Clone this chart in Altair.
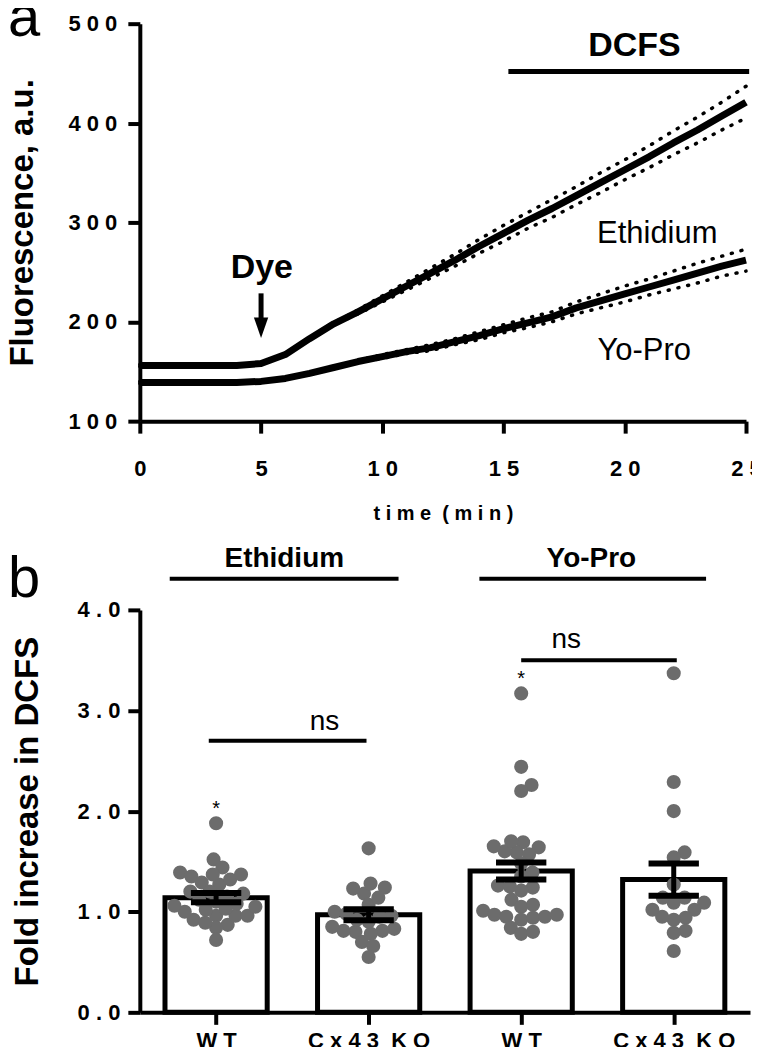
import math
import altair as alt
import pandas as pd

FONT = "Liberation Sans"
NB = "\u00a0"

# ---------------- Panel a data ----------------
time_min = list(range(26))
eth_mean = [156, 156, 156, 156, 156, 158, 167, 183, 198, 210, 223, 236, 249, 262, 276,
            289, 302, 314, 327, 340, 353, 366, 380, 393, 407, 421]
eth_sem = [1, 1, 1, 1, 1, 1, 1, 1, 1, 2, 3, 4, 5, 6, 7, 8, 8, 9, 9, 10, 10, 11, 12, 13, 14, 16]
ypr_mean = [139, 139, 139, 139, 139, 140, 143, 148, 154, 160, 165, 170, 174, 180, 186,
            193, 199, 205, 214, 221, 228, 235, 242, 249, 256, 262]
ypr_sem = [1, 1, 1, 1, 1, 1, 1, 1, 1, 1, 2, 2, 3, 3, 4, 4, 5, 5, 6, 7, 8, 8, 9, 10, 10, 11]

top_bold_text = ["Dye", "DCFS"]
top_bold_x = [5.03, 20.4]
top_bold_y = [243.7, 467.8]
top_norm_text = ["Ethidium", "Yo-Pro"]
top_norm_x = [21.34, 20.8]
top_norm_y = [278.9, 161.3]
dcfs_bar = [15.2, 25.13, 451.8]          # x1, x2, y
dye_arrow = [5.0, 228.6, 203.0, 194.0]   # x, shaft top, shaft bottom, head centre

# ---------------- Panel b data ----------------
group_labels = ["W T", "C x 4 3" + NB + " K O", "W T", "C x 4 3" + NB + " K O"]
group_pos = [0.5, 1.5, 2.5, 3.5]
bar_mean = [1.14, 0.97, 1.405, 1.32]
bar_sem = [0.045, 0.055, 0.085, 0.16]

eth_wt = [1.88, 1.52, 1.44, 1.39, 1.35, 1.27, 1.29, 1.32, 1.37, 1.37, 1.20, 1.20, 0.96, 0.92,
          0.87, 0.96, 0.84, 0.89, 0.96, 0.72, 1.12, 1.10, 1.08, 1.05, 1.03, 1.00, 1.15, 1.18,
          1.02, 1.06]
eth_ko = [1.63, 1.24, 1.18, 1.07, 1.14, 1.23, 1.28, 0.96, 1.00, 0.83, 0.81, 0.80, 0.81, 0.85,
          0.78, 0.70, 0.66, 0.55, 0.95, 0.98, 0.90, 0.92]
ypr_wt = [3.17, 2.44, 2.26, 2.20, 1.69, 1.64, 1.59, 1.57, 1.60, 1.65, 1.70, 1.48, 1.39, 1.35,
          1.24, 1.26, 1.21, 1.25, 1.12, 1.05, 1.01, 1.07, 0.97, 0.95, 0.92, 0.94, 0.95, 0.97,
          0.84, 0.78, 0.80]
ypr_ko = [3.37, 2.29, 2.00, 1.59, 1.54, 1.27, 1.14, 1.09, 1.02, 0.94, 0.92, 0.95, 1.02, 1.14,
          1.09, 0.81, 0.79, 0.61]
groups_values = [eth_wt, eth_ko, ypr_wt, ypr_ko]

sig_x1 = [0.196, 2.226, 0.452, 2.50]
sig_x2 = [1.696, 3.712, 1.486, 3.52]
sig_y = [4.31, 4.31, 2.70, 3.50]
head_text = ["Ethidium", "Yo-Pro"]
head_x = [0.947, 2.96]
head_y = [4.43, 4.43]
ns_text = ["ns", "ns"]
ns_x = [1.21, 2.795]
ns_y = [2.81, 3.62]
star_text = ["*", "*"]
star_x = [0.5, 2.5]
star_y = [1.965, 3.25]

panel_letters = ["a", "b"]

# ---------------- sizes ----------------
W_TOP, H_TOP = 607, 398
W_BOT, H_BOT = 611, 403
PX_X = W_BOT / 4.0
PX_Y = H_BOT / 4.0


def swarm(values, d=12.0):
    placed = []
    offs = [0.0] * len(values)
    for i in sorted(range(len(values)), key=lambda k: values[k]):
        y = values[i] * PX_Y
        cands = [0.0]
        for xj, yj in placed:
            dy = abs(y - yj)
            if dy < d:
                dx = math.sqrt(d * d - dy * dy)
                cands += [xj + dx, xj - dx]
        cands.sort(key=abs)
        for c in cands:
            if all((c - xj) ** 2 + (y - yj) ** 2 >= d * d - 1e-6 for xj, yj in placed):
                offs[i] = c
                placed.append((c, y))
                break
    return offs


# ---------------- panel a ----------------
rows = []
for name, m, s in [("Ethidium", eth_mean, eth_sem), ("Yo-Pro", ypr_mean, ypr_sem)]:
    for t, mv, sv in zip(time_min, m, s):
        rows.append({"time": t, "value": mv, "lower": mv - sv, "upper": mv + sv, "series": name})
df_top = pd.DataFrame(rows)

xs_top = alt.Scale(domain=[0, 25], nice=False, zero=False)
ys_top = alt.Scale(domain=[100, 500], nice=False, zero=False)
lab_expr = "join(split(datum.label, ''), ' ')"

x_top = alt.X("time:Q", scale=xs_top,
              axis=alt.Axis(values=[0, 5, 10, 15, 20, 25], labelExpr=lab_expr,
                            title="t i m e" + NB + " ( m i n )", titlePadding=24,
                            labelPadding=25))
y_top = alt.Y("value:Q", scale=ys_top,
              axis=alt.Axis(values=[100, 200, 300, 400, 500], labelExpr=lab_expr,
                            title="Fluorescence, a.u.", titlePadding=29, labelPadding=11))

base_top = alt.Chart(df_top)
dotted_lo = base_top.mark_line(color="black", strokeWidth=3.5, strokeDash=[1, 9],
                               strokeCap="round").encode(
    x=x_top, y=alt.Y("lower:Q", scale=ys_top), detail="series:N")
dotted_hi = base_top.mark_line(color="black", strokeWidth=3.5, strokeDash=[1, 9],
                               strokeCap="round").encode(
    x=alt.X("time:Q", scale=xs_top), y=alt.Y("upper:Q", scale=ys_top), detail="series:N")
main_line = base_top.mark_line(color="black", strokeWidth=7, strokeJoin="round").encode(
    x=alt.X("time:Q", scale=xs_top), y=y_top, detail="series:N")

df_tb = pd.DataFrame({"t": top_bold_text, "x": top_bold_x, "y": top_bold_y})
t_bold = alt.Chart(df_tb).mark_text(font=FONT, fontSize=34, fontWeight="bold", color="black",
                                    baseline="alphabetic", align="center").encode(
    x=alt.X("x:Q", scale=xs_top), y=alt.Y("y:Q", scale=ys_top), text="t:N")
df_tn = pd.DataFrame({"t": top_norm_text, "x": top_norm_x, "y": top_norm_y})
t_norm = alt.Chart(df_tn).mark_text(font=FONT, fontSize=31, color="black",
                                    baseline="alphabetic", align="center").encode(
    x=alt.X("x:Q", scale=xs_top), y=alt.Y("y:Q", scale=ys_top), text="t:N")

df_dcfs = pd.DataFrame({"x1": [dcfs_bar[0]], "x2": [dcfs_bar[1]], "y": [dcfs_bar[2]]})
dcfs_rule = alt.Chart(df_dcfs).mark_rule(color="black", strokeWidth=5).encode(
    x=alt.X("x1:Q", scale=xs_top), x2="x2:Q", y=alt.Y("y:Q", scale=ys_top))

df_arrow = pd.DataFrame({"x": [dye_arrow[0]], "y1": [dye_arrow[1]], "y2": [dye_arrow[2]],
                         "yh": [dye_arrow[3]]})
arrow_shaft = alt.Chart(df_arrow).mark_rule(color="black", strokeWidth=5).encode(
    x=alt.X("x:Q", scale=xs_top), y=alt.Y("y1:Q", scale=ys_top), y2="y2:Q")
arrow_head = alt.Chart(df_arrow).mark_point(
    shape="M-0.7,-1L0.7,-1L0,1Z", filled=True, color="black", opacity=1, size=420).encode(
    x=alt.X("x:Q", scale=xs_top), y=alt.Y("yh:Q", scale=ys_top))

letter_a = alt.Chart(pd.DataFrame({"t": [panel_letters[0]]})).mark_text(
    font=FONT, fontSize=58, color="black", align="left", baseline="alphabetic").encode(
    x=alt.value(-132), y=alt.value(12), text="t:N")

top = alt.layer(dotted_lo, dotted_hi, main_line, dcfs_rule, arrow_shaft, arrow_head,
                t_bold, t_norm, letter_a).properties(width=W_TOP, height=H_TOP)

# ---------------- panel b ----------------
xs_b = alt.Scale(domain=[0, 4], nice=False, zero=False)
ys_b = alt.Scale(domain=[0, 4], nice=False)
label_expr_b = "[" + ",".join("'" + l + "'" for l in group_labels) + "][floor(datum.value)]"

df_bar = pd.DataFrame({"pos": group_pos, "mean": bar_mean, "sem": bar_sem})
bars = alt.Chart(df_bar).transform_calculate(
    x1="datum.pos - 0.335", x2="datum.pos + 0.335", zero="0").mark_bar(
    fill="white", stroke="black", strokeWidth=5).encode(
    x=alt.X("x1:Q", scale=xs_b,
            axis=alt.Axis(values=group_pos, labelExpr=label_expr_b, title=None,
                          labelPadding=6)),
    x2="x2:Q",
    y=alt.Y("mean:Q", scale=ys_b,
            axis=alt.Axis(values=[0, 1, 2, 3, 4], format=".1f", labelExpr=lab_expr,
                          title="Fold increase in DCFS", titlePadding=33, labelPadding=8)),
    y2="zero:Q")

prow = []
for p, vals in zip(group_pos, groups_values):
    offs = swarm(vals)
    for v, o in zip(vals, offs):
        prow.append({"xp": p + o / PX_X, "value": v})
df_pts = pd.DataFrame(prow)
pts = alt.Chart(df_pts).mark_circle(size=200, color="#6c6c6c", opacity=1).encode(
    x=alt.X("xp:Q", scale=xs_b), y=alt.Y("value:Q", scale=ys_b))

err_base = alt.Chart(df_bar).transform_calculate(
    lo="datum.mean - datum.sem", hi="datum.mean + datum.sem",
    c1="datum.pos - 0.165", c2="datum.pos + 0.165")
err_v = err_base.mark_rule(color="black", strokeWidth=5).encode(
    x=alt.X("pos:Q", scale=xs_b), y=alt.Y("lo:Q", scale=ys_b), y2="hi:Q")
cap_hi = err_base.mark_rule(color="black", strokeWidth=6).encode(
    x=alt.X("c1:Q", scale=xs_b), x2="c2:Q", y=alt.Y("hi:Q", scale=ys_b))
cap_lo = err_base.mark_rule(color="black", strokeWidth=6).encode(
    x=alt.X("c1:Q", scale=xs_b), x2="c2:Q", y=alt.Y("lo:Q", scale=ys_b))

df_sig = pd.DataFrame({"x1": sig_x1, "x2": sig_x2, "y": sig_y})
sig = alt.Chart(df_sig).mark_rule(color="black", strokeWidth=4).encode(
    x=alt.X("x1:Q", scale=xs_b), x2="x2:Q", y=alt.Y("y:Q", scale=ys_b))

df_head = pd.DataFrame({"t": head_text, "x": head_x, "y": head_y})
heads = alt.Chart(df_head).mark_text(font=FONT, fontSize=28, fontWeight="bold", color="black",
                                     baseline="alphabetic", align="center").encode(
    x=alt.X("x:Q", scale=xs_b), y=alt.Y("y:Q", scale=ys_b), text="t:N")
df_ns = pd.DataFrame({"t": ns_text, "x": ns_x, "y": ns_y})
ns = alt.Chart(df_ns).mark_text(font=FONT, fontSize=28, color="black",
                                baseline="alphabetic", align="center").encode(
    x=alt.X("x:Q", scale=xs_b), y=alt.Y("y:Q", scale=ys_b), text="t:N")
df_star = pd.DataFrame({"t": star_text, "x": star_x, "y": star_y})
stars = alt.Chart(df_star).mark_text(font=FONT, fontSize=20, color="black",
                                     baseline="alphabetic", align="center").encode(
    x=alt.X("x:Q", scale=xs_b), y=alt.Y("y:Q", scale=ys_b), text="t:N")

letter_b = alt.Chart(pd.DataFrame({"t": [panel_letters[1]]})).mark_text(
    font=FONT, fontSize=58, color="black", align="left", baseline="alphabetic").encode(
    x=alt.value(-132), y=alt.value(-13), text="t:N")

bottom = alt.layer(bars, pts, err_v, cap_hi, cap_lo, sig, heads, ns, stars,
                   letter_b).properties(width=W_BOT, height=H_BOT)

chart = alt.vconcat(top, bottom, spacing=21).properties(
    padding={"left": -2, "top": -19, "right": -10, "bottom": -5}
).configure_view(stroke=None).configure_axis(
    domainColor="black", domainWidth=4, tickColor="black", tickWidth=4, tickSize=12,
    labelFont=FONT, labelFontSize=22, labelFontWeight="bold", labelColor="black",
    titleFont=FONT, titleFontSize=33, titleFontWeight="bold", titleColor="black",
    grid=False, labelFlush=False, labelOverlap=False
).configure_axisX(titleFontSize=20)

chart.save("out.html", embed_options={"renderer": "svg", "actions": False})
